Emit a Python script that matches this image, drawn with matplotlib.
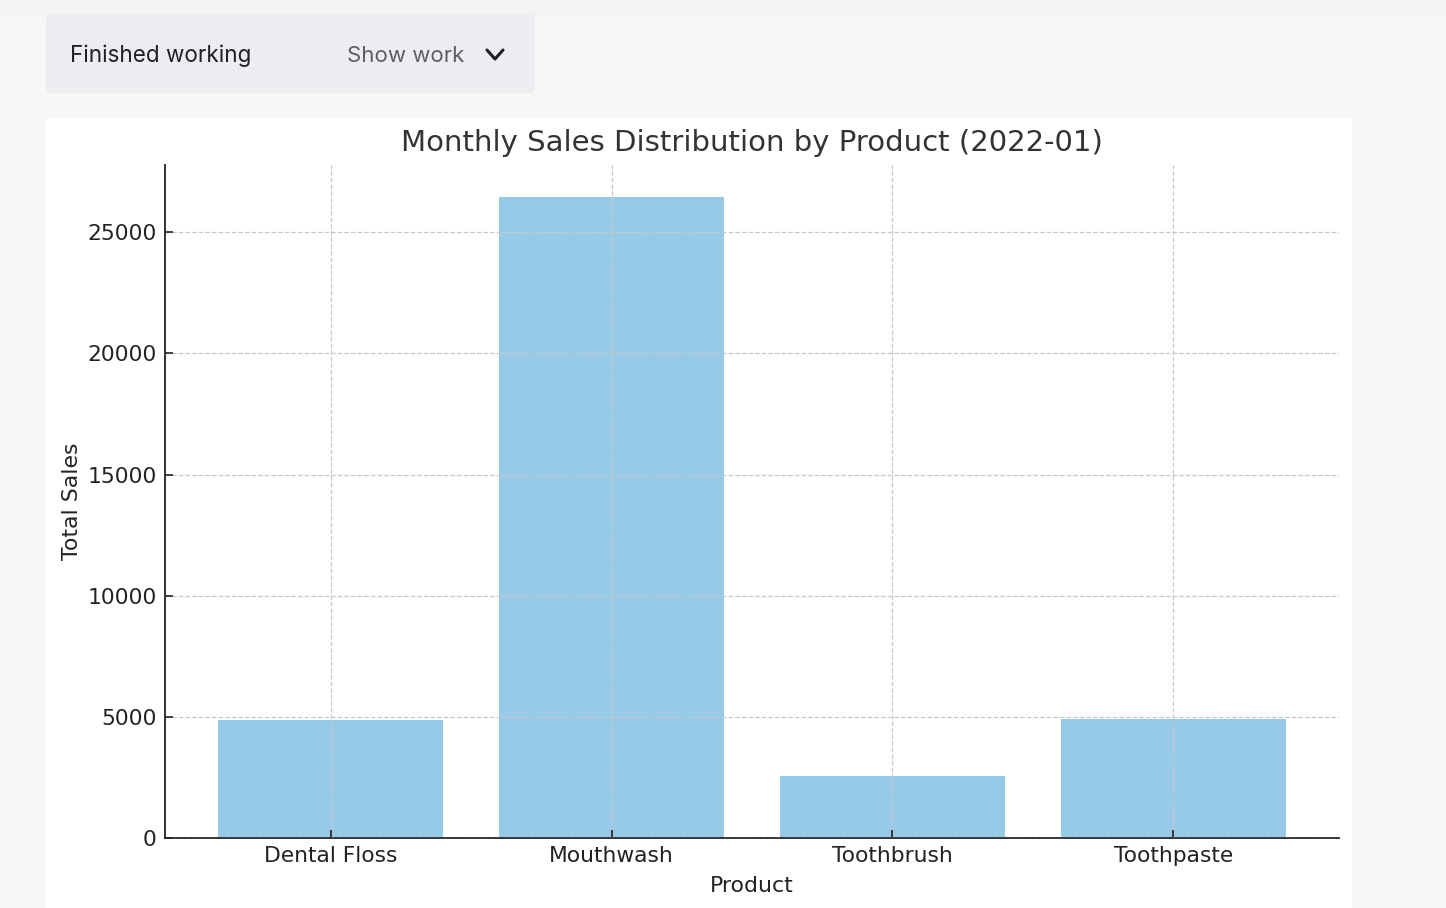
import matplotlib
matplotlib.use('Agg')
import matplotlib.pyplot as plt
from matplotlib.patches import FancyBboxPatch, Rectangle

# data
products = ["Dental Floss", "Mouthwash", "Toothbrush", "Toothpaste"]
total_sales = [4888, 26456, 2574, 4930]

W, H = 1446, 908
fig = plt.figure(figsize=(W / 100, H / 100), dpi=100)
fig.patch.set_facecolor('#f7f7f7')

# page / ui bits (figure pixel coords -> fractions)
def fx(x):
    return x / W

def fy(y):
    return 1 - y / H

fig.patches.append(Rectangle((0, fy(16)), 1, 16 / H, transform=fig.transFigure,
                             facecolor='#f3f3f3', edgecolor='none', zorder=-5))
fig.patches.append(Rectangle((fx(46), 0), (1352 - 46) / W, fy(118), transform=fig.transFigure,
                             facecolor='white', edgecolor='none', zorder=-5))
fig.patches.append(FancyBboxPatch((fx(46), fy(93)), (535 - 46) / W, (93 - 14) / H,
                                  boxstyle="round,pad=0,rounding_size=0.006",
                                  transform=fig.transFigure, facecolor='#ececf1',
                                  edgecolor='none', zorder=-5))
fig.text(fx(70), fy(56), "Finished working", fontsize=16.2, family=['Inter', 'DejaVu Sans'],
         color='#202123', va='center', ha='left')
fig.text(fx(347), fy(56), "Show work", fontsize=16, family=['Inter', 'DejaVu Sans'],
         color='#5d5d64', va='center', ha='left')
fig.lines.append(plt.Line2D([fx(487), fx(495), fx(503)], [fy(50), fy(59), fy(50)],
                            transform=fig.transFigure, color='#202123', lw=2.2,
                            solid_capstyle='round', solid_joinstyle='round'))

# chart
ax = fig.add_axes([fx(165), fy(838), (1339 - 165) / W, (838 - 165) / H])
ax.set_zorder(2)
ax.bar(products, total_sales, color='#96cae7', width=0.8, zorder=1)
ax.set_title("Monthly Sales Distribution by Product (2022-01)", fontsize=21,
             color='#333333', pad=10)
ax.set_xlabel("Product", fontsize=15.8, color='#222222', labelpad=7)
ax.set_ylabel("Total Sales", fontsize=15.8, color='#222222', labelpad=4)
ax.set_yticks([0, 5000, 10000, 15000, 20000, 25000])
ax.tick_params(axis='both', direction='in', length=6, width=1.2, labelsize=15.7,
               colors='#222222', pad=6)
ax.set_axisbelow(False)
ax.grid(True, linestyle='--', color='#c8c8c8', linewidth=0.9, zorder=3)
for s in ['top', 'right']:
    ax.spines[s].set_visible(False)
for s in ['left', 'bottom']:
    ax.spines[s].set_color('#222222')
    ax.spines[s].set_linewidth(1.3)

fig.savefig("out.png", dpi=100, facecolor=fig.get_facecolor())
